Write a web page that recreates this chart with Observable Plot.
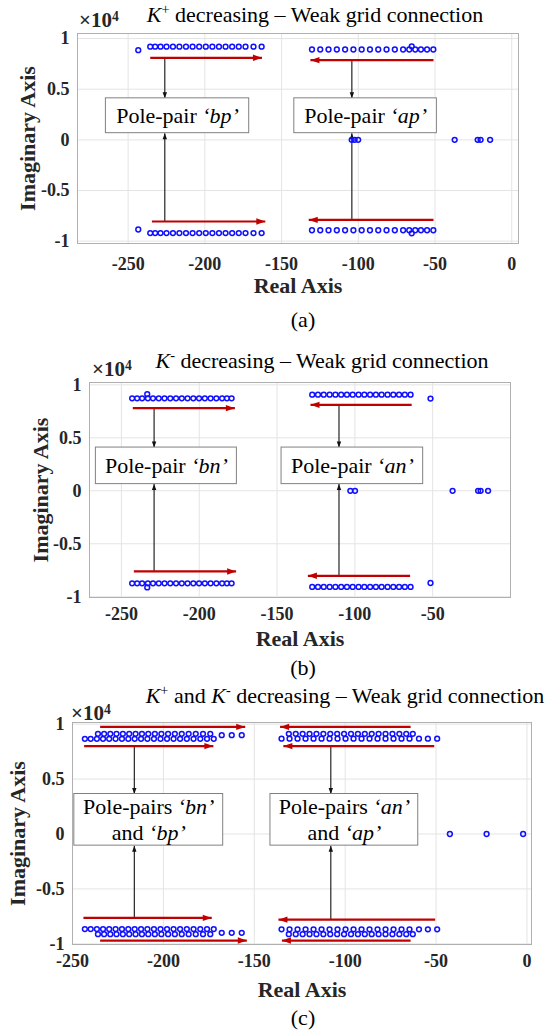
<!DOCTYPE html>
<html>
<head>
<meta charset="utf-8">
<script src="https://cdn.jsdelivr.net/npm/d3@7"></script>
<script src="https://cdn.jsdelivr.net/npm/@observablehq/plot@0.6"></script>
<style>
  html, body { margin: 0; padding: 0; background: white; }
  #root { position: relative; width: 554px; height: 1033px; overflow: hidden; }
  #root svg { position: absolute; left: 0; background: transparent !important; }
  .lbl { position: absolute; white-space: nowrap; font-family: "Liberation Serif", "Times New Roman", serif; color: #000; }
  .lbl sup { font-size: 0.65em; position: relative; top: -0.5em; vertical-align: baseline; line-height: 0; }
</style>
</head>
<body>
<div id="root"></div>
<script>
// ---------------- DATA ----------------
const yTicks = [-1, -0.5, 0, 0.5, 1];
const xTicksA = [-250, -200, -150, -100, -50, 0];
const xTicksB = [-250, -200, -150, -100, -50];
const xTicksC = [-250, -200, -150, -100, -50, 0];

// (a) K+ decreasing: complex pole rows (real parts), imaginary level (x1e4), mirrored
const aRowX_bp = [-235.6, -232.4, -228.9, -225.0, -220.8, -216.6, -212.3, -208.0, -203.7, -199.4, -195.1, -190.8, -186.5, -182.2, -177.9, -173.5, -168.3, -163.0];
const aRowY_bp = 0.92;
const aRowX_ap = [-130.2, -124.8, -119.4, -114.0, -108.6, -103.2, -97.8, -92.4, -87.0, -81.6, -76.2, -70.8, -66.8, -62.9, -59.2, -55.2, -51.1];
const aRowY_ap = 0.892;
const aExtra = [[-243.4, 0.885], [-65.2, 0.923]];
const aReal = [-104.3, -102.4, -100.1, -37.2, -22.2, -20.3, -14.1];
const aRed = [[-235.6, -162.8, 0.81], [-234.5, -160.6, -0.806], [-51.0, -131.2, 0.787], [-51.0, -132.3, -0.79]];
const aBlack = [[-226.1, 0.81, 0.41], [-226.1, -0.806, 0.066], [-104.2, 0.787, 0.41], [-104.2, -0.79, 0.066]];
const aBoxes = [[-264.5, -171.1, 0.066, 0.41, "Pole-pair *‘bp’*"], [-141.7, -48.8, 0.066, 0.41, "Pole-pair *‘ap’*"]];

// (b) K- decreasing
const bRowX_bn = [-243.1, -239.9, -236.7, -233.0, -229.7, -226.0, -222.3, -218.6, -214.9, -211.2, -207.5, -203.8, -200.1, -196.4, -192.7, -189.0, -185.3, -182.2, -179.2];
const bRowY_bn = 0.873;
const bRowX_an = [-127.4, -123.7, -120.0, -116.2, -112.5, -108.8, -105.1, -101.4, -97.6, -93.9, -90.2, -86.5, -82.8, -79.0, -75.3, -71.6, -67.9, -64.2];
const bRowY_an = 0.907;
const bExtra = [[-233.4, 0.912], [-51.4, 0.87]];
const bReal = [-102.9, -99.9, -37.2, -20.8, -19.2, -14.4];
const bRed = [[-242.7, -177.1, 0.78], [-242.0, -176.3, -0.761], [-63.5, -128.5, 0.811], [-64.5, -130.2, -0.802]];
const bBlack = [[-229.0, 0.78, 0.408], [-229.0, -0.761, 0.063], [-110.2, 0.811, 0.408], [-110.2, -0.802, 0.063]];
const bBoxes = [[-266.4, -175.8, 0.063, 0.408, "Pole-pair *‘bn’*"], [-147.1, -56.1, 0.063, 0.408, "Pole-pair *‘an’*"]];

// (c) K+ and K- decreasing
const cRowX_bn = [-243.2, -240.0, -236.6, -233.2, -229.8, -226.3, -222.8, -219.3, -215.8, -212.3, -208.8, -205.2, -201.6, -198.0, -194.4, -190.8, -187.1, -183.4, -179.7, -176.0, -172.3];
const cRowY_bn = 0.866;
const cRowX_bp = [-236.0, -232.6, -229.2, -225.8, -222.3, -218.8, -215.3, -211.8, -208.3, -204.7, -201.1, -197.4, -193.7, -189.9, -186.1, -182.2, -178.2, -174.2];
const cRowY_bp = 0.912;
const cRowX_ap = [-135.0, -130.6, -126.2, -121.8, -117.4, -113.0, -108.6, -104.2, -99.8, -95.4, -91.0, -86.6, -82.2, -77.8, -73.4, -69.0, -64.6, -59.4, -54.5, -49.4];
const cRowY_ap = 0.868;
const cRowX_an = [-131.0, -127.2, -123.4, -119.6, -115.8, -112.0, -108.2, -104.4, -100.6, -96.8, -93.0, -89.2, -85.4, -81.6, -77.8, -74.0, -70.2, -66.4, -62.8];
const cRowY_an = 0.912;
const cExtra = [[-167.9, 0.9], [-162.4, 0.9], [-156.9, 0.9]];
const cReal = [-42.4, -22.2, -2.1];
const cRed = [[-234.8, -155.0, 0.975], [-243.6, -172.5, 0.80], [-64.0, -135.8, 0.975], [-51.0, -134.0, 0.80],
              [-244.0, -173.4, -0.764], [-234.8, -154.1, -0.97], [-50.5, -136.7, -0.78], [-64.0, -134.8, -0.97]];
const cBlack = [[-216.0, 0.80, 0.364], [-216.0, -0.764, -0.106], [-107.9, 0.80, 0.364], [-107.9, -0.78, -0.106]];
const cBoxes = [[-249.0, -167.1, -0.106, 0.364, "Pole-pairs *‘bn’*\nand *‘bp’*"], [-141.1, -59.8, -0.106, 0.364, "Pole-pairs *‘an’*\nand *‘ap’*"]];

// ---------------- RENDER ----------------
const FONT = '"Liberation Serif", "Times New Roman", serif';
const AXC = "#262626";
const RED = "#c00000";
const BLUE = "#1010ff";

const headRight = {draw(c) { c.moveTo(0, 0); c.lineTo(-9, -3.2); c.lineTo(-9, 3.2); c.closePath(); }};
const headLeft  = {draw(c) { c.moveTo(0, 0); c.lineTo(9, -3.2); c.lineTo(9, 3.2); c.closePath(); }};
const headUp    = {draw(c) { c.moveTo(0, 0); c.lineTo(-2.2, 6); c.lineTo(2.2, 6); c.closePath(); }};
const headDown  = {draw(c) { c.moveTo(0, 0); c.lineTo(-2.2, -6); c.lineTo(2.2, -6); c.closePath(); }};

function buildPanel(p) {
  const pts = [];
  p.rows.forEach(([xs, y]) => xs.forEach(x => { pts.push({x, y}); pts.push({x, y: -y}); }));
  p.extra.forEach(([x, y]) => { pts.push({x, y}); pts.push({x, y: -y}); });
  p.real.forEach(x => pts.push({x, y: 0}));
  const red = p.red.map(([x1, x2, y]) => ({x1, x2, y}));
  const blk = p.black.map(([x, y1, y2]) => ({x, y1, y2}));
  const boxes = p.boxes.map(([x1, x2, y1, y2, t]) => ({x1, x2, y1, y2, t}));

  const svg = Plot.plot({
    width: 554, height: p.height,
    marginTop: p.mt, marginBottom: p.mb, marginLeft: p.ml, marginRight: p.mr,
    style: {fontFamily: FONT, background: "transparent", overflow: "visible"},
    x: {domain: p.xdom, type: "linear"},
    y: {domain: p.ydom, type: "linear"},
    marks: [
      Plot.gridX({ticks: p.xticks, stroke: "#e4e4e4", strokeOpacity: 1}),
      Plot.gridY({ticks: yTicks, stroke: "#e4e4e4", strokeOpacity: 1}),
      Plot.frame({stroke: "#b0b0b0"}),
      Plot.axisX({ticks: p.xticks, tickSize: 0, tickPadding: p.tpx, tickFormat: d => String(d), fontSize: 18, fontWeight: "bold", fontFamily: FONT, color: AXC, label: null}),
      Plot.axisY({ticks: yTicks, tickSize: 0, tickPadding: 8, tickFormat: d => String(d), fontSize: 18, fontWeight: "bold", fontFamily: FONT, color: AXC, label: null}),
      Plot.text(["Real Axis"], {text: d => d, frameAnchor: "bottom", lineAnchor: "middle", textAnchor: "middle", dy: p.xlabDy, fontSize: 22, fontWeight: "bold", fontFamily: FONT, fill: AXC}),
      Plot.text(["Imaginary Axis"], {text: d => d, frameAnchor: "left", lineAnchor: "middle", textAnchor: "middle", dx: p.ylabDx, rotate: -90, fontSize: 22, fontWeight: "bold", fontFamily: FONT, fill: AXC}),
      Plot.link(blk, {x1: "x", x2: "x", y1: "y1", y2: "y2", stroke: "#111", strokeWidth: 1.1}),
      Plot.dot(blk.filter(d => d.y2 > d.y1), {x: "x", y: "y2", symbol: headUp, r: 3, fill: "#111", stroke: "none"}),
      Plot.dot(blk.filter(d => d.y2 < d.y1), {x: "x", y: "y2", symbol: headDown, r: 3, fill: "#111", stroke: "none"}),
      Plot.rect(boxes, {x1: "x1", x2: "x2", y1: "y1", y2: "y2", fill: "white", stroke: "#808080", strokeWidth: 1}),
      Plot.text(boxes, {x: d => (d.x1 + d.x2) / 2, y: d => (d.y1 + d.y2) / 2, text: "t", dy: -1.5, fontSize: 22, lineHeight: 1.2, fontFamily: FONT, fill: "#000"}),
      Plot.dot(pts, {x: "x", y: "y", r: 2.4, stroke: BLUE, strokeWidth: 1.5, fill: "none"}),
      Plot.link(red, {x1: "x1", x2: "x2", y1: "y", y2: "y", stroke: RED, strokeWidth: 2.2}),
      Plot.dot(red.filter(d => d.x2 > d.x1), {x: "x2", y: "y", symbol: headRight, r: 3, fill: RED, stroke: "none"}),
      Plot.dot(red.filter(d => d.x2 < d.x1), {x: "x2", y: "y", symbol: headLeft, r: 3, fill: RED, stroke: "none"})
    ]
  });
  // italic segments marked with *...*
  const ns = "http://www.w3.org/2000/svg";
  svg.querySelectorAll("text, tspan").forEach(el => {
    if (el.children.length === 0 && el.textContent.includes("*")) {
      const parts = el.textContent.split("*");
      el.textContent = "";
      parts.forEach((s, i) => {
        if (i % 2) { const t = document.createElementNS(ns, "tspan"); t.setAttribute("font-style", "italic"); t.textContent = s; el.appendChild(t); }
        else if (s) el.appendChild(document.createTextNode(s));
      });
    }
  });
  svg.style.top = p.top + "px";
  return svg;
}

const root = document.getElementById("root");
const panels = [
  {top: 0, height: 305, mt: 33, mb: 62, ml: 77, mr: 36, xdom: [-283, 4.4], ydom: [-1.023, 1.05], xticks: xTicksA, tpx: 14, xlabDy: 42, ylabDx: -49.5,
   rows: [[aRowX_bp, aRowY_bp], [aRowX_ap, aRowY_ap]], extra: aExtra, real: aReal, red: aRed, black: aBlack, boxes: aBoxes},
  {top: 350, height: 310, mt: 32, mb: 63, ml: 89, mr: 44, xdom: [-270.5, 0], ydom: [-1.007, 1.022], xticks: xTicksB, tpx: 10, xlabDy: 41, ylabDx: -49,
   rows: [[bRowX_bn, bRowY_bn], [bRowX_an, bRowY_an]], extra: bExtra, real: bReal, red: bRed, black: bBlack, boxes: bBoxes},
  {top: 690, height: 325, mt: 32, mb: 71, ml: 72, mr: 23, xdom: [-250, 2.5], ydom: [-1.006, 1.015], xticks: xTicksC, tpx: 10, xlabDy: 45, ylabDx: -55,
   rows: [[cRowX_bn, cRowY_bn], [cRowX_bp, cRowY_bp], [cRowX_ap, cRowY_ap], [cRowX_an, cRowY_an]], extra: cExtra, real: cReal, red: cRed, black: cBlack, boxes: cBoxes}
];
panels.forEach(p => root.appendChild(buildPanel(p)));

// HTML text: titles, exponent labels, captions (positioned by baseline)
function addLabel(html, cx, baseline, size, opts = {}) {
  const d = document.createElement("div");
  d.className = "lbl";
  d.innerHTML = html;
  d.style.fontSize = size + "px";
  d.style.lineHeight = size + "px";
  d.style.top = (baseline - 0.8375 * size) + "px";
  if (opts.left != null) d.style.left = opts.left + "px";
  else { d.style.left = cx + "px"; d.style.transform = "translateX(-50%)"; }
  if (opts.bold) d.style.fontWeight = "bold";
  if (opts.color) d.style.color = opts.color;
  root.appendChild(d);
}
const titles = [
  ["<i>K</i><sup>+</sup> decreasing – Weak grid connection", 315, 22],
  ["<i>K</i><sup>-</sup> decreasing – Weak grid connection", 322, 368],
  ["<i>K</i><sup>+</sup> and <i>K</i><sup>-</sup> decreasing – Weak grid connection", 345, 703]
];
titles.forEach(([h, cx, b]) => addLabel(h, cx, b, 22));
const exps = [[79, 28], [92, 377], [71, 721]];
exps.forEach(([l, b]) => addLabel("×10<sup>4</sup>", 0, b, 21, {left: l, bold: true, color: AXC}));
const captions = [["(a)", 303, 327.5], ["(b)", 303, 675], ["(c)", 303, 1025]];
captions.forEach(([t, cx, b]) => addLabel(t, cx, b, 22));
</script>
</body>
</html>
